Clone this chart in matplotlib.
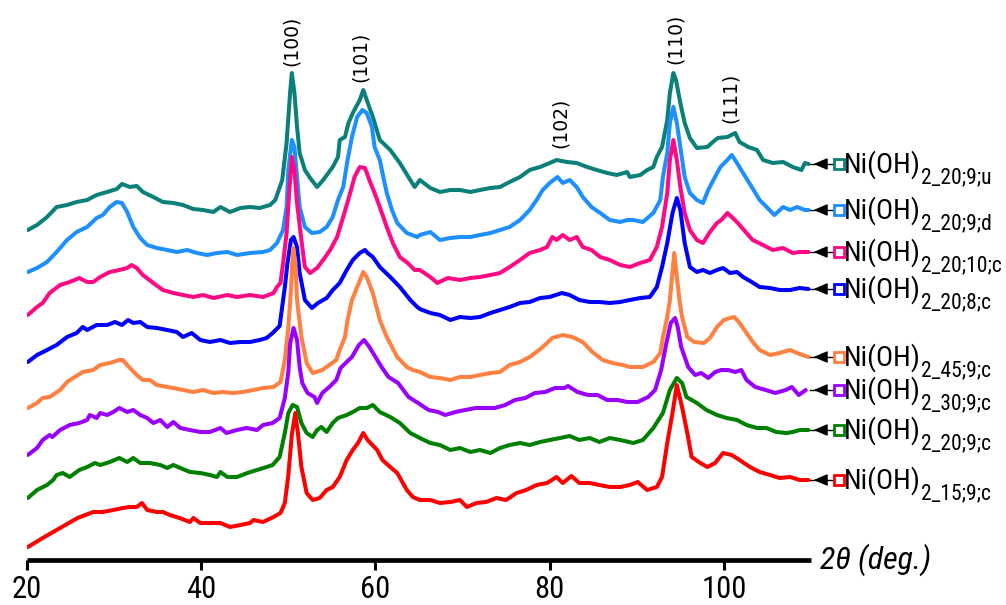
import matplotlib
matplotlib.use("Agg")
import matplotlib.pyplot as plt
from matplotlib import font_manager

# ---------------- data (2theta in deg, intensity in a.u. incl. stacking offset) -------------
u_x = [20.1,21.15,22.3,23.4,24.6,25.7,26.9,28.0,29.2,30.3,30.9,31.8,32.6,33.3,34.5,35.6,36.8,37.9,39.1,40.2,41.4,42.2,43.3,44.5,45.6,46.7,47.9,48.5,49.3,49.8,50.2,50.4,50.7,51.0,51.3,51.9,52.5,53.3,54.0,55.1,55.7,55.9,56.5,56.9,57.4,58.2,58.6,59.0,59.7,60.5,61.7,62.8,64.0,64.5,65.1,66.3,67.4,68.6,69.7,70.9,72.0,73.2,74.3,75.4,76.6,77.7,78.9,80.0,80.8,82.0,83.1,84.3,85.4,86.6,87.7,88.9,89.2,90.4,91.2,91.9,92.3,92.9,93.5,93.8,94.2,94.5,95.0,95.5,96.1,96.9,98.1,98.6,99.3,100.4,101.3,101.8,102.8,103.8,104.5,105.6,106.8,107.9,108.9,109.3,109.7]
u_y = [322,327,335,345,347,350,352,357,360,363,368,365,366,360,355,350,349,347,343,342,340,345,340,344,345,344,347,352,372,409,459,479,459,425,399,382,374,365,372,385,395,412,415,429,439,452,462,452,435,412,402,389,372,365,372,364,360,362,362,360,362,364,365,370,375,382,385,389,392,390,389,385,382,379,377,380,375,377,382,385,395,405,432,459,479,472,449,429,414,404,405,409,414,415,419,410,405,402,392,389,390,385,382,389,388]

d_x = [20.1,21.15,22.3,23.4,24.6,25.7,26.9,28.0,28.7,29.5,30.3,30.9,31.5,32.2,33.0,33.8,34.9,36.1,37.2,38.4,39.5,40.7,41.8,43.0,44.1,45.6,47.1,47.9,48.7,49.4,49.8,50.0,50.4,50.7,51.0,51.3,51.9,52.7,53.6,54.4,55.1,55.7,56.3,56.8,57.3,57.9,58.5,59.0,59.6,59.9,60.5,60.9,61.3,61.9,62.5,63.6,64.8,65.1,66.3,67.4,68.6,69.7,70.9,72.0,73.2,74.3,75.4,76.6,77.7,78.5,79.2,80.0,80.9,81.5,82.3,83.1,83.8,84.8,85.8,86.9,88.1,88.9,89.6,90.7,91.9,92.7,93.0,93.5,93.8,94.2,94.6,95.0,95.5,96.1,96.9,97.6,98.2,98.8,99.6,100.4,100.9,101.5,102.2,103.2,104.1,104.9,105.8,106.8,107.6,108.4,109.3,109.7]
d_y = [280,284,290,300,312,320,325,334,337,345,350,349,340,325,314,307,304,302,300,302,299,297,299,300,297,299,300,302,309,322,345,382,412,405,375,345,325,319,320,325,335,352,365,392,415,435,442,439,425,405,392,375,359,342,329,319,315,317,320,312,314,315,315,317,319,322,325,332,342,352,362,369,375,369,372,365,355,345,339,332,330,332,332,330,339,352,375,399,429,445,429,405,375,359,352,349,362,372,385,392,397,389,379,365,352,345,337,345,342,345,342,342]

c10_x = [20.1,21.15,21.8,22.6,23.8,24.9,26.0,26.9,27.6,28.4,29.5,30.6,31.5,32.0,32.6,33.3,34.5,35.6,36.8,37.9,39.1,40.2,41.4,43.0,44.1,45.6,47.1,48.3,48.7,49.1,49.4,49.8,50.1,50.4,50.7,51.0,51.5,51.9,52.5,53.3,54.0,54.8,55.6,56.3,57.1,57.6,58.2,58.8,59.3,59.9,60.5,61.3,62.0,62.8,63.7,64.5,65.1,66.3,67.1,68.3,69.7,70.9,72.0,73.2,74.3,75.4,76.6,77.7,78.9,79.7,80.3,80.8,81.5,82.3,83.1,83.8,84.8,85.8,86.9,88.1,89.2,90.4,91.5,92.3,92.9,93.5,93.8,94.2,94.6,95.0,95.5,96.1,96.9,97.6,98.4,99.2,99.7,100.4,100.9,101.6,102.6,103.3,104.5,105.6,106.8,107.9,108.7,109.7]
c10_y = [237,245,249,259,267,270,274,270,270,275,280,282,284,287,284,277,269,262,259,257,255,257,254,257,255,257,255,259,265,269,289,319,360,395,382,349,312,285,279,284,292,302,315,335,359,375,385,384,372,359,345,325,309,295,289,282,282,275,269,274,272,274,275,277,279,285,292,299,302,305,315,312,317,312,315,305,302,295,292,287,285,289,292,305,325,359,392,412,392,365,339,322,312,309,320,329,332,339,335,329,319,312,307,302,304,299,300,300]

c8_x = [20.1,21.15,22.3,23.4,24.6,25.7,26.4,26.9,28.0,29.2,30.1,30.9,31.6,32.2,33.0,33.8,34.9,36.1,37.2,37.9,38.9,39.9,41.0,42.2,43.3,44.5,45.6,46.7,47.5,48.2,49.0,49.6,49.9,50.3,50.6,51.0,51.3,51.9,52.7,53.4,54.4,55.1,55.9,56.7,57.4,58.2,58.8,59.1,59.7,60.5,61.7,62.8,64.0,64.8,65.1,66.3,67.4,68.6,69.7,70.9,72.0,73.2,74.3,75.4,76.6,77.7,78.9,80.0,81.4,82.3,83.4,84.6,85.7,86.9,88.1,89.2,90.4,91.5,92.3,92.9,93.5,94.1,94.6,95.0,95.5,96.1,96.9,97.6,98.4,99.2,99.9,100.7,101.5,102.2,103.2,104.1,105.3,106.4,107.6,108.7,109.7]
c8_y = [190,197,202,207,215,219,225,222,227,227,230,227,232,229,230,225,224,222,220,215,219,212,210,212,209,210,210,212,214,219,226,265,289,312,315,305,279,252,244,249,254,262,269,282,292,299,302,299,295,285,275,265,252,245,243,239,237,232,235,234,235,239,242,245,249,250,254,255,259,257,252,250,250,249,250,252,254,255,265,285,309,339,354,342,309,285,280,282,279,282,284,279,280,275,270,265,264,262,262,264,263]

c45_x = [20.1,21.15,21.8,22.6,23.8,24.6,25.3,26.4,27.6,28.4,29.5,30.6,31.0,31.8,32.6,33.3,34.1,34.9,36.1,36.8,37.9,39.1,40.2,41.4,42.5,43.7,44.8,46.0,47.1,48.3,49.1,49.6,50.0,50.3,50.55,50.8,51.0,51.5,52.1,52.8,53.9,54.7,55.5,55.9,56.5,56.8,57.3,58.6,59.0,59.7,60.3,60.5,61.3,62.5,63.6,64.3,65.1,66.3,67.4,68.6,69.7,70.9,72.0,73.2,74.3,75.4,76.6,77.7,78.5,79.2,80.3,81.5,82.6,83.8,84.9,86.1,87.2,88.4,89.2,90.7,91.9,92.7,93.0,93.5,93.8,94.3,94.9,95.2,95.8,96.6,97.7,98.4,99.2,100.0,100.7,101.2,101.8,102.6,103.4,104.1,105.3,106.4,107.6,108.4,109.7]
c45_y = [144,149,154,155,162,170,174,180,182,187,189,192,192,184,177,172,172,167,165,164,162,160,162,159,160,159,160,162,164,165,170,192,225,262,304,290,252,215,189,179,182,187,192,202,215,232,252,280,275,259,239,232,215,195,185,182,180,175,174,172,175,175,177,179,180,187,190,195,200,205,214,217,215,210,200,192,189,187,185,185,190,199,215,235,252,299,252,235,215,210,209,214,225,232,234,235,229,219,209,202,197,199,202,199,195]

c30_x = [20.1,21.15,21.8,22.6,22.9,23.8,24.9,26.0,26.9,27.2,28.0,28.4,29.2,29.9,30.6,31.5,32.2,33.0,33.8,34.5,35.3,36.1,36.8,37.6,38.7,39.9,41.0,42.2,42.9,44.1,45.2,46.4,47.1,48.2,49.0,49.6,50.0,50.2,50.6,51.0,51.3,51.6,52.2,53.0,53.3,53.9,54.7,55.5,56.0,56.7,57.3,58.1,58.7,59.3,60.0,60.7,61.5,62.6,63.8,64.9,66.1,67.2,68.0,69.2,70.3,71.5,72.6,73.7,74.9,76.0,77.2,78.3,79.5,80.6,81.7,82.1,83.2,84.4,85.5,86.6,87.8,88.9,90.1,91.3,92.1,92.8,93.4,93.9,94.4,94.7,95.1,95.9,96.7,97.4,98.2,99.0,99.7,100.5,101.3,102.0,102.6,103.6,104.8,105.9,107.1,107.8,108.6,109.4]
c30_y = [97,104,112,117,115,122,127,129,132,137,134,139,137,140,144,140,142,137,134,129,132,125,130,124,122,120,120,124,119,122,124,122,127,129,134,154,180,208,224,212,185,169,159,155,149,159,165,172,184,190,195,207,212,205,195,185,175,169,155,149,142,140,137,140,142,144,144,144,147,152,154,159,160,164,164,166,160,157,157,152,152,150,150,155,162,182,209,229,234,225,205,185,177,179,174,180,182,182,180,182,172,165,162,159,162,165,157,162]

c20_x = [20.1,21.15,22.3,23.0,23.4,24.1,24.9,26.0,26.9,27.8,28.4,29.5,30.6,31.5,32.2,33.0,34.1,35.3,36.1,36.8,37.6,38.7,39.9,41.0,41.8,42.2,43.0,44.1,45.3,46.4,47.5,48.2,49.0,49.6,50.0,50.5,51.0,51.5,52.1,52.8,53.3,53.8,54.4,55.1,55.7,56.7,57.4,58.2,59.0,59.7,60.5,61.7,62.8,64.0,65.1,66.3,67.4,68.6,69.7,70.9,72.0,73.2,74.3,75.4,76.6,77.7,78.9,80.0,81.2,82.3,83.4,84.6,85.7,86.9,88.1,89.6,90.7,91.9,93.0,93.8,94.6,95.2,95.7,96.9,98.0,99.2,100.3,101.5,102.6,103.8,104.9,106.0,107.2,107.9,108.7,109.7]
c20_y = [54,62,67,72,77,79,75,82,85,89,87,90,94,90,94,89,89,87,84,87,84,80,79,77,75,80,75,75,79,82,85,87,95,119,139,147,145,129,119,115,122,125,120,129,134,137,140,144,144,147,140,135,129,119,114,109,107,102,104,100,102,99,104,107,109,107,110,112,114,116,112,114,110,114,112,109,112,124,139,162,174,169,155,149,142,137,134,132,127,124,124,120,119,120,122,122]

c15_x = [20.1,21.8,23.8,25.8,27.6,28.7,29.9,31.0,31.8,32.6,33.2,33.8,34.9,35.6,36.4,37.5,38.7,39.1,39.9,41.0,42.2,43.3,44.5,45.6,46.0,47.1,48.3,49.1,49.6,50.0,50.4,50.8,51.1,51.5,52.1,52.8,53.6,54.4,55.1,55.9,56.7,57.4,58.0,58.6,59.1,60.2,60.8,61.7,62.5,63.6,64.3,65.1,66.3,67.4,68.6,69.7,70.5,71.6,72.7,73.9,75.0,76.2,77.3,78.5,79.7,80.8,81.5,82.5,83.4,84.6,85.7,86.9,88.1,89.2,90.1,91.2,92.3,92.9,93.5,94.1,94.6,95.2,95.8,96.3,97.3,98.1,99.0,99.9,100.9,101.8,103.0,104.1,105.3,106.4,107.6,108.7,109.7]
c15_y = [5,14,24,34,40,40,42,44,45,45,49,42,40,40,37,34,30,34,29,29,29,25,27,29,32,30,35,39,49,77,117,139,119,85,59,52,54,62,65,75,92,102,109,119,112,102,92,85,79,62,55,52,52,49,50,52,45,49,50,54,52,59,62,67,69,75,69,76,69,69,67,65,65,67,70,62,65,75,109,139,167,145,119,95,89,85,89,99,97,92,85,80,77,74,75,72,72]

series_x = [u_x, d_x, c10_x, c8_x, c45_x, c30_x, c20_x, c15_x]
series_y = [u_y, d_y, c10_y, c8_y, c45_y, c30_y, c20_y, c15_y]
main_label = "Ni(OH)"
sub_labels = ["2_20;9;u", "2_20;9;d", "2_20;10;c", "2_20;8;c",
              "2_45;9;c", "2_30;9;c", "2_20;9;c", "2_15;9;c"]
colors = ["#0b8078", "#1e8fff", "#ff0a84", "#0000ff", "#ff8040", "#9900ff", "#008000", "#ff0000"]

peak_labels = ["(100)", "(101)", "(102)", "(110)", "(111)"]
peak_pos = [50.4, 58.3, 81.2, 94.4, 100.8]
peak_lab_base = [486, 470, 404, 488, 429]

xticks = [20, 40, 60, 80, 100]

# ---------------- fonts: pick a condensed face if one is installed ----------------
entries = font_manager.fontManager.ttflist
names = {e.name for e in entries}
fam, stretch, narrow_ok = 'DejaVu Sans', 'normal', False
for pref in ['Liberation Sans Narrow', 'Roboto Condensed', 'Open Sans Condensed',
             'Noto Sans Condensed', 'DejaVu Sans Condensed', 'Noto Sans SemiCondensed']:
    if pref in names:
        fam, stretch, narrow_ok = pref, 'normal', True
        break
if not narrow_ok:
    for f in ['Roboto', 'Noto Sans', 'Open Sans', 'DejaVu Sans', 'Liberation Sans']:
        for st in ['condensed', 'semi-condensed', 'extra-condensed']:
            if any(e.name == f and str(e.stretch) == st and e.style == 'normal' for e in entries):
                fam, stretch, narrow_ok = f, st, True
                break
        if narrow_ok:
            break

plt.rcParams['font.family'] = [fam, 'DejaVu Sans']
plt.rcParams['font.stretch'] = stretch
k = 1.0 if narrow_ok else 0.8   # shrink if only a wide face exists

fig = plt.figure(figsize=(10.06, 6.05), dpi=100)
ax = fig.add_axes([27/1006, 45/605, (811-27)/1006, 560/605])
ax.set_xlim(20, 110)
ax.set_ylim(-8, 552)

for xs, ys, col in zip(series_x, series_y, colors):
    ax.plot(xs, ys, color=col, lw=2.9, solid_joinstyle='round', solid_capstyle='round', zorder=2)

for s in ['left', 'top', 'right']:
    ax.spines[s].set_visible(False)
ax.spines['bottom'].set_linewidth(3.4)
ax.spines['bottom'].set_capstyle('butt')
ax.set_yticks([])
ax.set_xticks(xticks)
ax.tick_params(axis='x', direction='out', length=7, width=2.2, labelsize=22 * k, pad=3.5)
for t in ax.get_xticklabels():
    t.set_fontstretch(stretch)

ax.text(1.012, -8, "2θ (deg.)", transform=ax.get_yaxis_transform(), fontsize=23 * k,
        style='italic', ha='left', va='center', fontstretch=stretch)

# peak labels
for lab, px, py in zip(peak_labels, peak_pos, peak_lab_base):
    ax.text(px, py, lab, rotation=90, ha='center', va='bottom', fontsize=13.5,
            family='DejaVu Sans')

# legend (right side annotations)
x_mark = 113.2
fig.canvas.draw()
renderer = fig.canvas.get_renderer()
for ys, col, sl in zip(series_y, colors, sub_labels):
    yv = ys[-1]
    ax.plot([109.9, x_mark], [yv, yv], color='k', lw=1.0, clip_on=False, zorder=3)
    ax.annotate('', xy=(110.3, yv), xytext=(111.8, yv), annotation_clip=False,
                arrowprops=dict(arrowstyle='-|>,head_length=0.7,head_width=0.3', color='k',
                                lw=1.0, shrinkA=0, shrinkB=0, mutation_scale=12))
    ax.plot([x_mark], [yv], marker='s', ms=7, mfc='white', mec=col, mew=2.0,
            clip_on=False, zorder=4)
    t = ax.annotate(main_label, xy=(113.5, yv), xytext=(2, -9),
                    textcoords='offset pixels', annotation_clip=False,
                    fontsize=20.5 * k, ha='left', va='baseline', fontstretch=stretch)
    bb = t.get_window_extent(renderer)
    x_end = ax.transData.inverted().transform((bb.x1, bb.y0))[0]
    ax.annotate(sl, xy=(x_end, yv), xytext=(1, -19), textcoords='offset pixels',
                annotation_clip=False, fontsize=15.5 * k, ha='left', va='baseline',
                fontstretch=stretch)

fig.savefig("out.png", dpi=100)
